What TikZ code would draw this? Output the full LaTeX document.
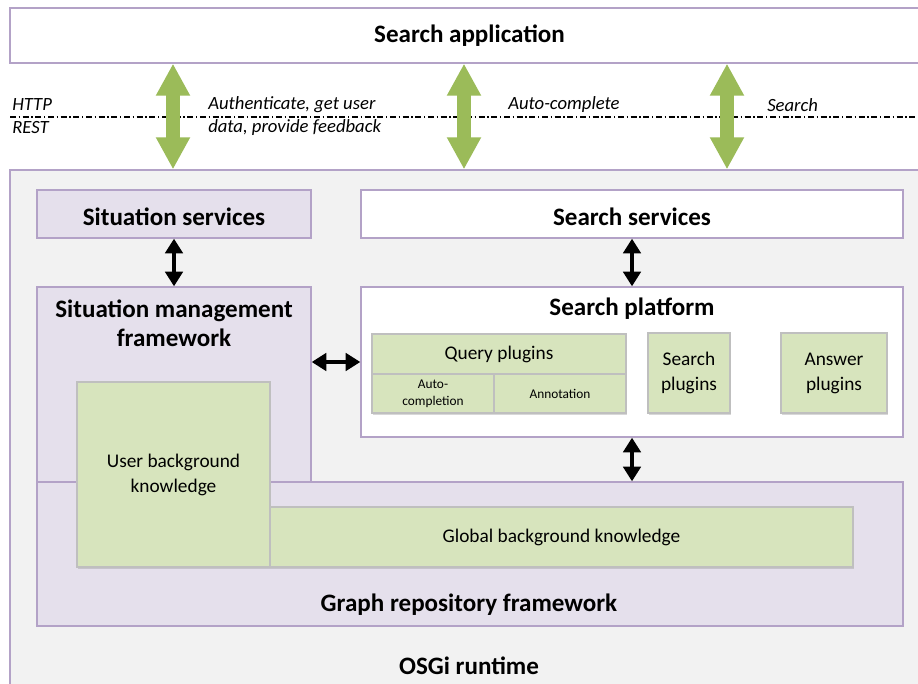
\documentclass[tikz,border=0pt]{standalone}
\usepackage{fontspec}
\setmainfont{Carlito}
\usetikzlibrary{arrows.meta,shadows}

\definecolor{lilac}{HTML}{B3A2C7}
\definecolor{lilacfill}{HTML}{E5E0EC}
\definecolor{runtimegray}{HTML}{F2F2F2}
\definecolor{sage}{HTML}{D7E4BD}
\definecolor{sageline}{HTML}{BFBFBF}
\definecolor{leaf}{HTML}{9BBB59}

\begin{document}
\begin{tikzpicture}[
    x=0.75pt, y=-0.75pt,
    layer/.style={rectangle, draw=lilac, line width=1pt, inner sep=0pt},
    purplebox/.style={layer, fill=lilacfill},
    whitebox/.style={layer, fill=white},
    plugin/.style={rectangle, draw=sageline, fill=sage, line width=0.8pt, inner sep=0pt, align=center, font=\fontsize{14.5pt}{18.75pt}\selectfont, drop shadow={shadow xshift=1pt, shadow yshift=-1.5pt, opacity=0.3}},
    subplugin/.style={plugin, font=\fontsize{10pt}{12.75pt}\selectfont},
    title/.style={font=\fontsize{18.8pt}{21.75pt}\selectfont\bfseries, align=center, inner sep=0pt},
    note/.style={font=\fontsize{14pt}{17.25pt}\selectfont\itshape, align=left, anchor=west, inner sep=0pt},
    biarrow/.style={{Triangle[width=13pt,length=11pt]}-{Triangle[width=13pt,length=11pt]}, line width=3.5pt},
    bigarrow/.style={leaf, {Triangle[width=24pt,length=24pt]}-{Triangle[width=24pt,length=24pt]}, line width=10.5pt}
]
\useasboundingbox (0,0) rectangle (918,684);
\clip (0,0) rectangle (918,684);
\fill[white] (0,0) rectangle (918,684);

% Cadres principaux
\node[layer, fill=runtimegray, minimum width=682.5pt, minimum height=390pt] (osgi) at (465,430) {};
\node[whitebox, minimum width=682.5pt, minimum height=41.25pt] (app) at (465,35.5) {};
\node[title] (apptxt) at (469.5,36) {Search application};
\node[title] (osgitxt) at (469,666) {OSGi runtime};

% Protocoles
\coordinate (lineL) at (10,117);
\coordinate (lineR) at (918,117);
\draw[line width=0.8pt, dash pattern=on 4.5pt off 2pt on 1pt off 2pt] (lineL) -- (lineR);
\node[note] (http) at (12,116.5) {HTTP\\REST};
\node[note] (auth) at (208,116.5) {Authenticate, get user\\data, provide feedback};
\node[note] (autocomp) at (508,105) {Auto-complete};
\node[note] (search) at (767,105) {Search};

% Services
\node[purplebox, minimum width=205.5pt, minimum height=36pt] (sitserv) at (174,214) {};
\node[title] (sitservtxt) at (174,217) {Situation services};
\node[whitebox, minimum width=406.5pt, minimum height=36pt] (searchserv) at (632,214) {};
\node[title] (searchservtxt) at (632,217) {Search services};

% Frameworks
\node[purplebox, minimum width=205.5pt, minimum height=147pt] (smf) at (174,385) {};
\node[title] (smftxt) at (174,323) {Situation management\\framework};
\node[purplebox, minimum width=649.5pt, minimum height=108pt] (repo) at (470,554) {};
\node[title] (repotxt) at (469,605) {Graph repository framework};

% Plateforme de recherche
\node[whitebox, minimum width=406.5pt, minimum height=112.5pt] (platform) at (632,362) {};
\node[title] (platformtxt) at (632,309) {Search platform};
\node[plugin, minimum width=190.5pt, minimum height=30pt] (query) at (499,354) {Query plugins};
\node[subplugin, minimum width=91.5pt, minimum height=29.25pt] (autoc) at (433,393.5) {Auto-\\completion};
\node[subplugin, minimum width=99pt, minimum height=29.25pt] (annot) at (560,393.5) {Annotation};
\node[plugin, minimum width=61.5pt, minimum height=60pt] (splug) at (689,373) {Search\\plugins};
\node[plugin, minimum width=79.5pt, minimum height=60pt] (aplug) at (834,373) {Answer\\plugins};

% Connaissances
\node[plugin, minimum width=437.25pt, minimum height=45pt] (global) at (561.5,537) {Global background knowledge};
\node[plugin, minimum width=144.75pt, minimum height=138.75pt] (user) at (173.5,474.5) {User background\\knowledge};

% Connexions internes
\draw[biarrow] (sitserv.south) -- (smf.north);
\draw[biarrow] (searchserv.south) -- (platform.north);
\draw[biarrow] (platform.west -| smf.east) -- (platform.west);
\draw[biarrow] (platform.south) -- (platform.south |- repo.north);

% Connexions HTTP
\coordinate (ga) at (173,0);
\coordinate (gb) at (464,0);
\coordinate (gc) at (727,0);
\foreach \g in {ga, gb, gc}
    \draw[bigarrow] (app.south -| \g) -- (osgi.north -| \g);

\end{tikzpicture}
\end{document}
